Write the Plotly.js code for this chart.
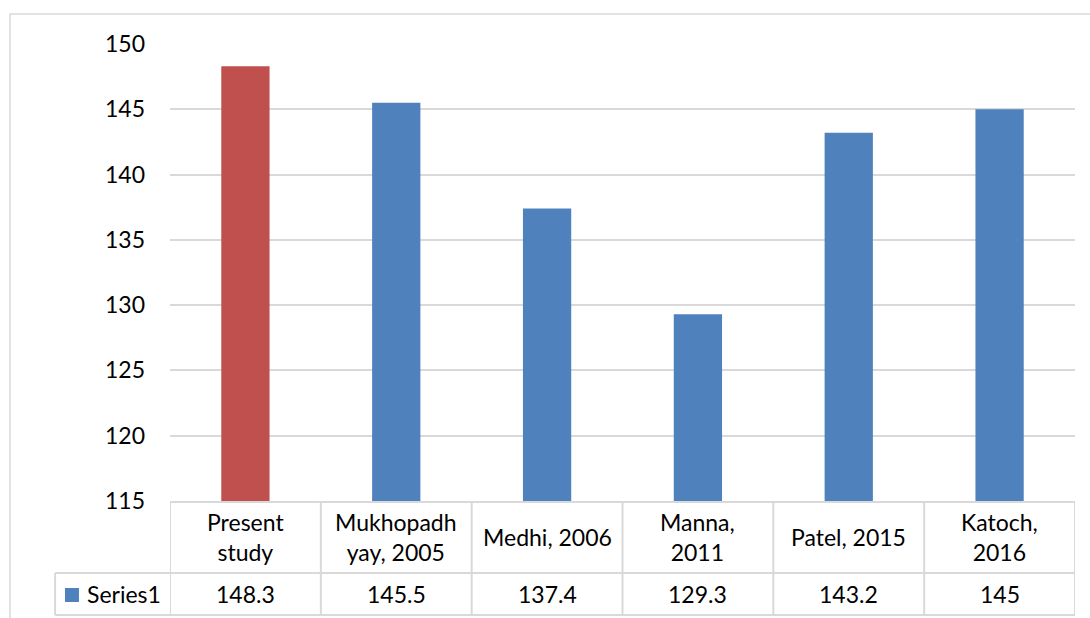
<!DOCTYPE html>
<html>
<head>
<meta charset="utf-8">
<script src="https://cdn.plot.ly/plotly-3.0.1.min.js"></script>
<style>
  html, body { margin: 0; padding: 0; background: #fff; }
  #chart { width: 1090px; height: 618px; }
</style>
</head>
<body>
<div id="chart"></div>
<script>
// Study labels (line breaks as in the data table header)
var categories = ["Present<br>study", "Mukhopadh<br>yay, 2005", "Medhi, 2006", "Manna,<br>2011", "Patel, 2015", "Katoch,<br>2016"];
var values = [148.3, 145.5, 137.4, 129.3, 143.2, 145];
var valueLabels = ["148.3", "145.5", "137.4", "129.3", "143.2", "145"];
var seriesName = "Series1";
var yTicks = [115, 120, 125, 130, 135, 140, 145, 150];

var BLUE = "#4F81BD";
var RED = "#C0504D";
var GRID = "#d9d9d9";
var FONT = "Lato, 'Open Sans', sans-serif";
var TABLE_SIZE = 23;

var idx = categories.map(function (_, i) { return i; });
var barColors = idx.map(function (i) { return i === 0 ? RED : BLUE; });

var trace = {
  type: "bar",
  x: idx,
  y: values,
  base: 0,
  marker: { color: barColors },
  hoverinfo: "x+y",
  showlegend: false
};

// Data-table geometry (paper units below the plot area)
var rowSplit = -0.1575;   // header row / value row boundary
var rowBottom = -0.2495;  // bottom of the table
var legendLeft = -0.127;  // left edge of the legend cell

var shapes = [];
// outer chart frame
shapes.push({ type: "rect", xref: "paper", yref: "paper", x0: -0.1768, x1: 1.2, y0: -0.4, y1: 1.0656,
  line: { color: GRID, width: 1.5 } });
// horizontal table lines
shapes.push({ type: "line", xref: "paper", yref: "paper", x0: legendLeft, x1: 1, y0: rowSplit, y1: rowSplit,
  line: { color: GRID, width: 2 } });
shapes.push({ type: "line", xref: "paper", yref: "paper", x0: legendLeft, x1: 1, y0: rowBottom, y1: rowBottom,
  line: { color: GRID, width: 2 } });
// vertical table lines at category boundaries
for (var b = 0; b <= categories.length; b++) {
  shapes.push({ type: "line", xref: "x", yref: "paper", x0: b - 0.5, x1: b - 0.5, y0: 0, y1: rowBottom,
    line: { color: GRID, width: 2 } });
}
shapes.push({ type: "line", xref: "paper", yref: "paper", x0: legendLeft, x1: legendLeft, y0: rowSplit, y1: rowBottom,
  line: { color: GRID, width: 2 } });
// legend key square
shapes.push({ type: "rect", xref: "paper", yref: "paper", x0: -0.116, x1: -0.1006, y0: -0.1904, y1: -0.2210,
  fillcolor: BLUE, line: { width: 0 } });

var annotations = [];
idx.forEach(function (i) {
  annotations.push({ xref: "x", yref: "paper", x: i, y: (rowSplit) / 2, text: categories[i],
    showarrow: false, xanchor: "center", yanchor: "middle",
    font: { family: FONT, size: TABLE_SIZE, color: "#000" } });
  annotations.push({ xref: "x", yref: "paper", x: i, y: (rowSplit + rowBottom) / 2, text: valueLabels[i],
    showarrow: false, xanchor: "center", yanchor: "middle",
    font: { family: FONT, size: TABLE_SIZE, color: "#000" } });
});
annotations.push({ xref: "paper", yref: "paper", x: -0.0938, y: (rowSplit + rowBottom) / 2, text: seriesName,
  showarrow: false, xanchor: "left", yanchor: "middle",
  font: { family: FONT, size: TABLE_SIZE, color: "#000" } });

var layout = {
  width: 1090,
  height: 618,
  margin: { l: 170, r: 15, t: 44, b: 117 },
  paper_bgcolor: "#fff",
  plot_bgcolor: "#fff",
  bargap: 0.68,
  showlegend: false,
  font: { family: FONT, size: 20, color: "#000" },
  xaxis: {
    range: [-0.5, categories.length - 0.5],
    showticklabels: false,
    showgrid: false,
    zeroline: false,
    showline: true,
    linecolor: GRID,
    linewidth: 2,
    ticks: ""
  },
  yaxis: {
    range: [115, 150],
    tickvals: yTicks,
    ticktext: yTicks.map(String),
    showgrid: true,
    gridcolor: GRID,
    gridwidth: 2,
    zeroline: false,
    showline: false,
    ticks: "",
    ticklabelstandoff: 24,
    tickfont: { family: FONT, size: 23, color: "#000" }
  },
  shapes: shapes,
  annotations: annotations
};

Plotly.newPlot("chart", [trace], layout, { displayModeBar: false, staticPlot: true });
</script>
</body>
</html>
